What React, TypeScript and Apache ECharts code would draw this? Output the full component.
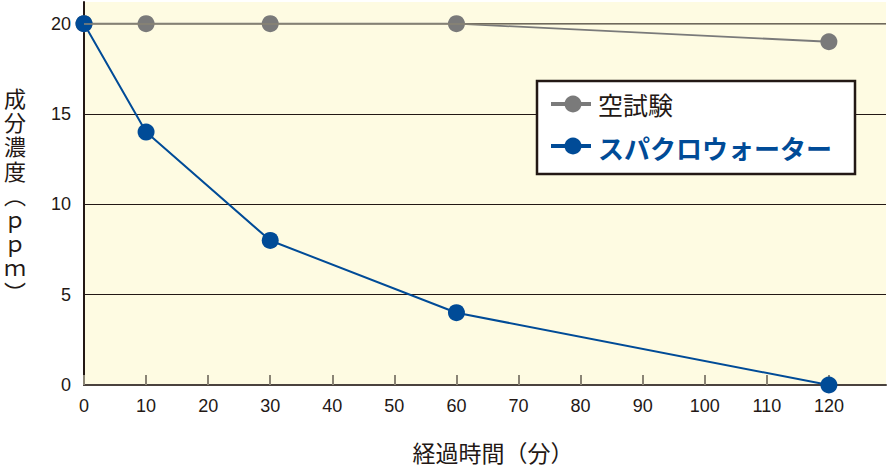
import React, { useEffect, useRef } from "react";
import * as echarts from "echarts";

const minutes = [0, 10, 30, 60, 120];
const blankTest = [20, 20, 20, 20, 19];
const spacro = [20, 14, 8, 4, 0];
const seriesNames = ["空試験", "スパクロウォーター"];
const xAxisTitle = "経過時間（分）";
const yAxisTitleChars = ["成", "分", "濃", "度", "︵", "ｐ", "ｐ", "ｍ", "︶"];

const GRAY = "#7a7a7a";
const BLUE = "#004b97";
const INK = "#231815";
const FONT = "'Liberation Sans', 'Noto Sans CJK JP', sans-serif";
const JFONT = "'Noto Sans CJK JP', sans-serif";

export default function App() {
  const ref = useRef<HTMLDivElement>(null);
  useEffect(() => {
    if (!ref.current) return;
    const chart = echarts.init(ref.current, undefined, { renderer: "svg" });
    const toPairs = (ys: number[]) => minutes.map((m, i) => [m, ys[i]]);
    const yTitle = yAxisTitleChars.map((ch, i) => ({
      type: "text",
      x: 15,
      y: 97 + i * 24.2,
      style: {
        text: ch,
        font: `22px ${JFONT}`,
        lineHeight: 22,
        fill: INK,
        align: "center",
        verticalAlign: "middle",
      },
    }));
    chart.setOption({
      animation: false,
      grid: {
        left: 84,
        right: 1,
        top: 2,
        bottom: 85,
        show: true,
        backgroundColor: "#fefbe2",
        borderWidth: 0,
      },
      xAxis: {
        type: "value",
        min: 0,
        max: 129.2,
        interval: 10,
        axisLine: { show: true, lineStyle: { color: "#4a423e", width: 2 } },
        axisTick: { show: true, inside: true, length: 10, lineStyle: { color: "#8a8475", width: 2 } },
        axisLabel: { fontSize: 18, color: INK, margin: 12, fontFamily: FONT, showMaxLabel: false },
        splitLine: { show: false },
      },
      yAxis: {
        type: "value",
        min: 0,
        max: 21.2,
        interval: 5,
        axisLine: { show: true, lineStyle: { color: INK, width: 2 } },
        axisTick: { show: false },
        axisLabel: { fontSize: 18, color: INK, margin: 13, fontFamily: FONT, showMaxLabel: false },
        splitLine: { show: true, showMaxLine: false, showMinLine: false, lineStyle: { color: INK, width: 1 } },
      },
      graphic: [
        ...yTitle,
        {
          type: "text",
          x: 493,
          y: 452,
          style: {
            text: xAxisTitle,
            font: `23px ${JFONT}`,
            fill: INK,
            align: "center",
            verticalAlign: "middle",
          },
        },
        {
          type: "rect",
          shape: { x: 537, y: 81, width: 318, height: 93 },
          style: { fill: "#ffffff", stroke: INK, lineWidth: 2.5 },
          z: 10,
        },
        {
          type: "line",
          shape: { x1: 551, y1: 104, x2: 591, y2: 104 },
          style: { stroke: GRAY, lineWidth: 4 },
          z: 11,
        },
        {
          type: "circle",
          shape: { cx: 573, cy: 104, r: 8.5 },
          style: { fill: GRAY },
          z: 12,
        },
        {
          type: "text",
          x: 598,
          y: 104,
          style: { text: seriesNames[0], font: `25px ${JFONT}`, fill: INK, verticalAlign: "middle" },
          z: 12,
        },
        {
          type: "line",
          shape: { x1: 551, y1: 146, x2: 591, y2: 146 },
          style: { stroke: BLUE, lineWidth: 4 },
          z: 11,
        },
        {
          type: "circle",
          shape: { cx: 573, cy: 146, r: 8.5 },
          style: { fill: BLUE },
          z: 12,
        },
        {
          type: "text",
          x: 598,
          y: 147,
          style: { text: seriesNames[1], font: `bold 26px ${JFONT}`, fill: BLUE, verticalAlign: "middle" },
          z: 12,
        },
      ],
      series: [
        {
          name: seriesNames[0],
          type: "line",
          data: toPairs(blankTest),
          symbol: "circle",
          symbolSize: 17,
          itemStyle: { color: GRAY },
          lineStyle: { color: GRAY, width: 1.8 },
          markLine: {
            silent: true,
            symbol: "none",
            label: { show: false },
            lineStyle: { color: "#8a8475", width: 1.5, type: "solid" },
            data: [{ yAxis: 20 }],
          },
        },
        {
          name: seriesNames[1],
          type: "line",
          data: toPairs(spacro),
          symbol: "circle",
          symbolSize: 17,
          itemStyle: { color: BLUE },
          lineStyle: { color: BLUE, width: 2 },
        },
      ],
    });
    return () => chart.dispose();
  }, []);
  return (
    <div
      ref={ref}
      style={{ position: "fixed", left: 0, top: 0, width: 887, height: 470, background: "#ffffff" }}
    />
  );
}
